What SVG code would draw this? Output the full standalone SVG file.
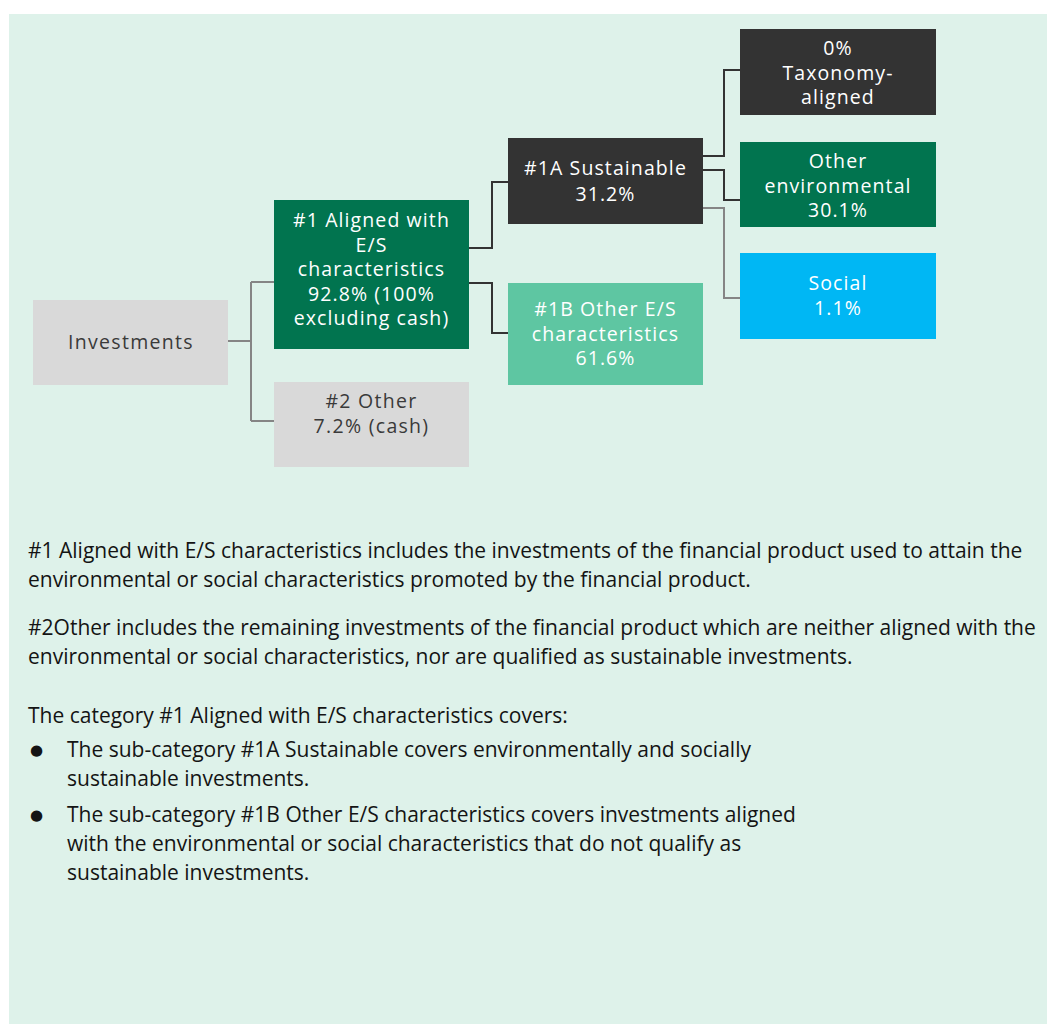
<svg xmlns="http://www.w3.org/2000/svg" width="1047" height="1024" viewBox="0 0 1047 1024">
<style>
.nt{font-family:"Open Sans","Liberation Sans",sans-serif;font-size:19.5px;text-anchor:middle}
.w{fill:#ffffff;font-weight:500;letter-spacing:1.1px}
.g{fill:#3a3a3a;font-weight:400;letter-spacing:1.3px}
.body{font-family:"Open Sans","Liberation Sans",sans-serif;font-size:21px;fill:#141414}
.bul{font-family:"DejaVu Sans",sans-serif;font-size:15px;fill:#141414}
.cd{fill:none;stroke:#333333;stroke-width:2}
.cg{fill:none;stroke:#858585;stroke-width:2}
</style>
<rect x="0" y="0" width="1047" height="1024" fill="#ffffff"/>
<rect x="9" y="14" width="1038" height="1010" fill="#def2ea"/>

<g id="connectors">
<path class="cg" d="M228 341 H251 M251 282 V421 M251 282 H274 M251 421 H274"/>
<path class="cd" d="M469 248 H492 V182 H508"/>
<path class="cd" d="M469 283 H492 V333 H508"/>
<path class="cd" d="M703 156 H724 V70 H740"/>
<path class="cd" d="M703 170 H724 V200 H740"/>
<path class="cg" d="M703 208 H724 V298 H740"/>
</g>

<g id="investments">
<rect x="33" y="300" width="195" height="85" fill="#d9d9d9"/>
<text class="nt g" x="131" y="349">Investments</text>
</g>

<g id="aligned">
<rect x="274" y="200" width="195" height="149" fill="#01744f"/>
<text class="nt w" x="371.5" y="227">#1 Aligned with</text>
<text class="nt w" x="371.5" y="251.5">E/S</text>
<text class="nt w" x="371.5" y="276">characteristics</text>
<text class="nt w" x="371.5" y="300.5">92.8% (100%</text>
<text class="nt w" x="371.5" y="325">excluding cash)</text>
</g>

<g id="other2">
<rect x="274" y="382" width="195" height="85" fill="#d9d9d9"/>
<text class="nt g" x="371.5" y="408">#2 Other</text>
<text class="nt g" x="371.5" y="433">7.2% (cash)</text>
</g>

<g id="sustainable">
<rect x="508" y="138" width="195" height="86" fill="#333333"/>
<text class="nt w" x="605.5" y="175">#1A Sustainable</text>
<text class="nt w" x="605.5" y="200.5">31.2%</text>
</g>

<g id="other-es">
<rect x="508" y="283" width="195" height="102" fill="#5ec6a2"/>
<text class="nt w" x="605.5" y="316">#1B Other E/S</text>
<text class="nt w" x="605.5" y="340.5">characteristics</text>
<text class="nt w" x="605.5" y="365">61.6%</text>
</g>

<g id="taxonomy">
<rect x="740" y="29" width="196" height="86" fill="#333333"/>
<text class="nt w" x="838" y="55">0%</text>
<text class="nt w" x="838" y="79.5">Taxonomy-</text>
<text class="nt w" x="838" y="104">aligned</text>
</g>

<g id="other-env">
<rect x="740" y="142" width="196" height="85" fill="#01744f"/>
<text class="nt w" x="838" y="168">Other</text>
<text class="nt w" x="838" y="192.5">environmental</text>
<text class="nt w" x="838" y="217">30.1%</text>
</g>

<g id="social">
<rect x="740" y="253" width="196" height="86" fill="#00b7f4"/>
<text class="nt w" x="838" y="290">Social</text>
<text class="nt w" x="838" y="315">1.1%</text>
</g>

<g id="notes">
<text class="body" x="28" y="558">#1 Aligned with E/S characteristics includes the investments of the financial product used to attain the</text>
<text class="body" x="28" y="587">environmental or social characteristics promoted by the financial product.</text>
<text class="body" x="28" y="635">#2Other includes the remaining investments of the financial product which are neither aligned with the</text>
<text class="body" x="28" y="664">environmental or social characteristics, nor are qualified as sustainable investments.</text>
<text class="body" x="28" y="723">The category #1 Aligned with E/S characteristics covers:</text>
<text class="bul" x="30" y="755">●</text>
<text class="body" x="67" y="757">The sub-category #1A Sustainable covers environmentally and socially</text>
<text class="body" x="67" y="786">sustainable investments.</text>
<text class="bul" x="30" y="820">●</text>
<text class="body" x="67" y="822">The sub-category #1B Other E/S characteristics covers investments aligned</text>
<text class="body" x="67" y="851">with the environmental or social characteristics that do not qualify as</text>
<text class="body" x="67" y="880">sustainable investments.</text>
</g>
</svg>
